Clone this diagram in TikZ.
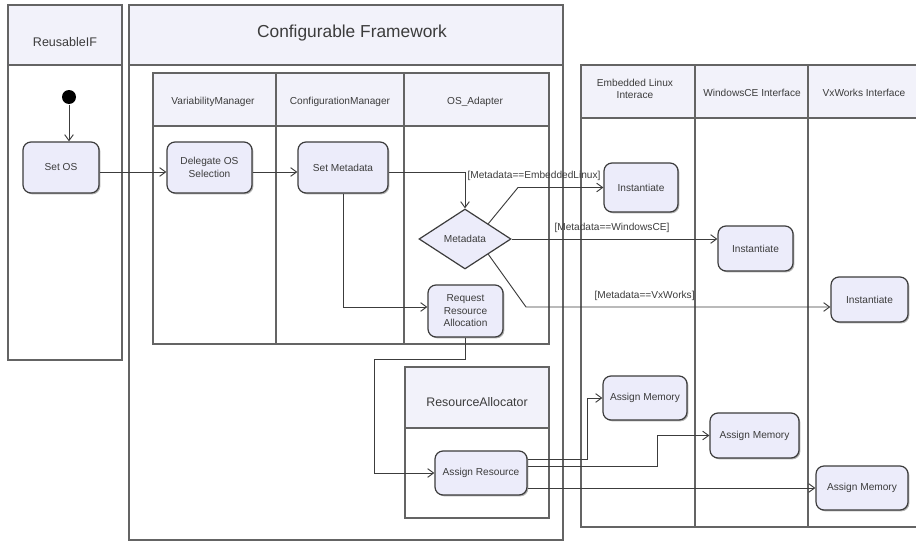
\documentclass[tikz,border=0pt]{standalone}
\usepackage{fontspec}
\setmainfont{Liberation Sans}
\usetikzlibrary{arrows.meta,shapes.geometric,shadows}

\definecolor{laneFill}{RGB}{242,242,250}
\definecolor{actFill}{RGB}{236,236,250}
\definecolor{inkGray}{RGB}{60,60,60}
\definecolor{laneGray}{RGB}{100,100,100}

\tikzset{every picture/.style={line width=0.75pt}}
\tikzset{
  lane/.style={draw=laneGray, line width=0.85pt},
  lanehead/.style={fill=laneFill},
  small/.style={font=\fontsize{7.6}{9.4}\selectfont, text=inkGray},
  act/.style 2 args={draw=inkGray, fill=actFill, rounded corners=6pt, line width=0.9pt,
    align=center, inner sep=0pt, minimum width=#1*0.75pt, minimum height=#2*0.75pt, small,
    drop shadow={shadow xshift=1pt, shadow yshift=-1pt, opacity=0.3, fill=black}},
  decide/.style={diamond, draw=inkGray, fill=actFill, line width=0.9pt, inner sep=0pt,
    aspect=1.53, minimum width=69pt, minimum height=45pt, small},
  flow/.style={draw=inkGray, line width=0.7pt, -{Straight Barb[length=4.5pt,width=6.5pt]}},
  guard/.style={anchor=west, inner sep=0.75pt, small},
}

\begin{document}
\begin{tikzpicture}[x=0.75pt,y=0.75pt,yscale=-1,xscale=1]
\useasboundingbox (0,0) rectangle (916,542);

%Lane: ReusableIF
\fill[lanehead] (8,5) rectangle (122,65);
\draw[lane] (8,5) rectangle (122,360);
\draw[lane] (8,65) -- (122,65);
%Lane: Configurable Framework
\fill[lanehead] (129,5) rectangle (563,65);
\draw[lane] (129,5) rectangle (563,540);
\draw[lane] (129,65) -- (563,65);
%Lane: inner pool
\fill[lanehead] (153,73) rectangle (549,126);
\draw[lane] (153,73) rectangle (549,344);
\draw[lane] (153,126) -- (549,126);
\draw[lane] (276,73) -- (276,344);
\draw[lane] (404,73) -- (404,344);
%Lane: ResourceAllocator
\fill[lanehead] (405,367) rectangle (549,428);
\draw[lane] (405,367) rectangle (549,518);
\draw[lane] (405,428) -- (549,428);
%Lane: interfaces (open on the right)
\fill[lanehead] (581,65) rectangle (916,118);
\draw[lane] (916,65) -- (581,65) -- (581,527) -- (916,527);
\draw[lane] (581,118) -- (916,118);
\draw[lane] (695,65) -- (695,527);
\draw[lane] (808,65) -- (808,527);

% Text Node
\node[font=\fontsize{9.4}{11}\selectfont, text=inkGray] (tReuse) at (65,42) {ReusableIF};
% Text Node
\node[font=\fontsize{13}{15}\selectfont, text=inkGray] (tFrame) at (352,33) {Configurable Framework};
% Text Node
\node[small] (tVar) at (213,102) {VariabilityManager};
% Text Node
\node[small] (tConf) at (340,102) {ConfigurationManager};
% Text Node
\node[small] (tAdapt) at (475,102) {OS\_Adapter};
% Text Node
\node[font=\fontsize{9.3}{11}\selectfont, text=inkGray] (tAlloc) at (477,402) {ResourceAllocator};
% Text Node
\node[small, align=center] (tLinux) at (635,89) {Embedded Linux\\Interace};
% Text Node
\node[small] (tWince) at (752,93) {WindowsCE Interface};
% Text Node
\node[small] (tVx) at (864,93) {VxWorks Interface};

%Activities
\node[circle, fill=black, inner sep=0pt, minimum size=10.5pt] (start) at (69,97) {};
\node[act={76}{51}] (setos) at (61,167.5) {Set OS};
\node[act={85}{51}] (delegate) at (209.5,167.5) {Delegate OS\\Selection};
\node[act={90}{51}] (setmeta) at (343,167.5) {Set Metadata};
\node[decide] (meta) at (465,239) {Metadata};
\node[act={75}{52}] (request) at (465.5,311) {Request\\Resource\\Allocation};
\node[act={74}{49}] (inst1) at (641,187.5) {Instantiate};
\node[act={75}{45}] (inst2) at (755.5,248.5) {Instantiate};
\node[act={77}{45}] (inst3) at (869.5,299.5) {Instantiate};
\node[act={92}{44}] (assignres) at (481,473) {Assign Resource};
\node[act={84}{44}] (am1) at (645,398) {Assign Memory};
\node[act={89}{45}] (am2) at (754.5,435.5) {Assign Memory};
\node[act={92}{44}] (am3) at (862,488) {Assign Memory};

%Bend points
\coordinate (rowA) at (0,172);
\coordinate (rowB) at (0,307);
\coordinate (jog) at (374,359);
\coordinate (bendA) at (518,187.5);
\coordinate (bendC) at (526,307);
\coordinate (tapA) at (587,459);
\coordinate (tapB) at (657,466);

%Flows
\draw[flow] (start) -- (start |- setos.north);
\draw[flow] (setos.east |- rowA) -- (delegate.west |- rowA);
\draw[flow] (delegate.east |- rowA) -- (setmeta.west |- rowA);
\draw[flow] (setmeta.east |- rowA) -| (meta.north);
\draw[flow] (setmeta.south) |- (request.west |- rowB);
\draw[flow] (meta.north east) -- (bendA) -- (inst1.west);
\draw[flow] (meta.east) -- (meta.east -| inst2.west);
\draw[flow] (meta.south east) -- (bendC) -- (bendC -| inst3.west);
\draw[flow] (request.south) |- (jog) |- (assignres.west);
\draw[flow] (assignres.east |- tapA) -- (tapA) |- (am1.west);
\draw[flow] (assignres.east |- tapB) -- (tapB) |- (am2.west);
\draw[flow] (assignres.east |- am3.west) -- (am3.west);

% Text Node
\node[guard] (gLinux) at (466,176) {[Metadata==EmbeddedLinux]};
% Text Node
\node[guard] (gWince) at (553,228) {[Metadata==WindowsCE]};
% Text Node
\node[guard] (gVx) at (593,296) {[Metadata==VxWorks]};

\end{tikzpicture}
\end{document}
